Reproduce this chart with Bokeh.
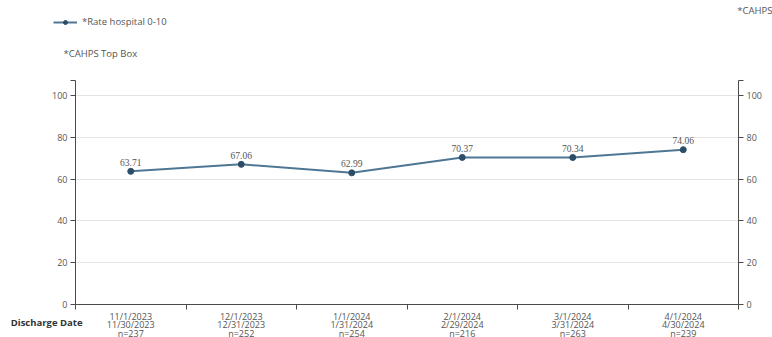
from bokeh.plotting import figure
from bokeh.models import (Range1d, LinearAxis, FixedTicker, Label, Legend,
                          ColumnDataSource, LabelSet, Grid)
from bokeh.embed import file_html
from bokeh.resources import INLINE

# Monthly discharge periods and survey results
period_start = ["11/1/2023", "12/1/2023", "1/1/2024", "2/1/2024", "3/1/2024", "4/1/2024"]
period_end = ["11/30/2023", "12/31/2023", "1/31/2024", "2/29/2024", "3/31/2024", "4/30/2024"]
n_counts = [237, 252, 254, 216, 263, 239]
top_box = [63.71, 67.06, 62.99, 70.37, 70.34, 74.06]
y_ticks = [0, 20, 40, 60, 80, 100]

FONT = "Open Sans"
LINE_COLOR = "#4f7794"
MARK_COLOR = "#2c4d69"
AXIS_COLOR = "#4a4a4a"
TEXT_COLOR = "#555555"

W, H = 772, 337
# pixel placement of the plotting box inside the canvas
LEFT_PX, RIGHT_PX = 75, 738
ZERO_PX, HUNDRED_PX = 304, 95
Y_TOP = 107

n = len(top_box)
x_scale = (RIGHT_PX - LEFT_PX) / n
y_scale = (ZERO_PX - HUNDRED_PX) / 100.0


def px_x(px):
    return (px - LEFT_PX) / x_scale


def px_y(py):
    return (ZERO_PX - py) / y_scale


xs = [i + 0.5 for i in range(n)]
labels = [f"{v:.2f}" for v in top_box]
src = ColumnDataSource(dict(x=xs, y=top_box, lab=labels))

p = figure(width=W, height=H, output_backend="svg", toolbar_location=None,
           x_range=Range1d(px_x(0), px_x(W)), y_range=Range1d(px_y(H), px_y(0)),
           min_border=0, x_axis_type=None, y_axis_type=None)
p.outline_line_color = None
p.background_fill_color = "white"
p.border_fill_color = "white"
p.xgrid.visible = False
p.ygrid.visible = False

# Horizontal grid lines across the plotting box
grid = Grid(dimension=1, ticker=FixedTicker(ticks=[20, 40, 60, 80, 100]),
            grid_line_color="#e4e4e4", bounds=(0, 100))
try:
    grid.cross_bounds = (0, n)
    p.add_layout(grid)
except AttributeError:
    p.segment(x0=0, x1=n, y0=[20, 40, 60, 80, 100], y1=[20, 40, 60, 80, 100],
              line_color="#e4e4e4", level="underlay")

# Category axis: labels centered in each period, tick marks on the boundaries
xticker = FixedTicker(ticks=xs, minor_ticks=list(range(n + 1)))
xaxis = LinearAxis(ticker=xticker, fixed_location=0, bounds=(0, n))
xaxis.major_label_overrides = {
    x: f"{a}\n{b}\nn={c}" for x, a, b, c in zip(xs, period_start, period_end, n_counts)
}
xaxis.major_tick_out = 0
xaxis.major_tick_in = 0
xaxis.minor_tick_out = 5
xaxis.minor_tick_in = 0
xaxis.major_label_standoff = 0
xaxis.major_label_text_font = FONT
xaxis.major_label_text_font_size = "9px"
xaxis.major_label_text_color = TEXT_COLOR
xaxis.major_label_text_line_height = 0.68
xaxis.axis_line_color = AXIS_COLOR
xaxis.minor_tick_line_color = AXIS_COLOR
p.add_layout(xaxis, "below")

for side, loc in (("left", 0), ("right", n)):
    ax = LinearAxis(ticker=FixedTicker(ticks=y_ticks, minor_ticks=[Y_TOP]),
                    fixed_location=loc, bounds=(0, Y_TOP))
    ax.major_tick_out = 5
    ax.major_tick_in = 0
    ax.minor_tick_out = 5
    ax.minor_tick_in = 0
    ax.major_label_standoff = 3
    ax.major_label_text_font = FONT
    ax.major_label_text_font_size = "9px"
    ax.major_label_text_color = TEXT_COLOR
    ax.axis_line_color = AXIS_COLOR
    ax.major_tick_line_color = AXIS_COLOR
    ax.minor_tick_line_color = AXIS_COLOR
    p.add_layout(ax, side)

r_line = p.line("x", "y", source=src, line_color=LINE_COLOR, line_width=2)
r_pts = p.scatter("x", "y", source=src, size=6, color=MARK_COLOR)

vals = LabelSet(x="x", y="y", text="lab", source=src, y_offset=9,
                text_align="center", text_baseline="middle",
                text_font=FONT, text_font_size="9.5px", text_color=TEXT_COLOR)
p.add_layout(vals)

legend = Legend(items=[("*Rate hospital 0-10", [r_line, r_pts])],
                location=(53, H - 28), orientation="horizontal",
                glyph_width=24, glyph_height=10, label_height=10,
                label_standoff=5, padding=0, margin=0, spacing=0,
                border_line_alpha=0, background_fill_alpha=0,
                label_text_font=FONT, label_text_font_size="9.5px",
                label_text_color=TEXT_COLOR)
p.add_layout(legend)


def note(px, py, text, size="9.5px", align="left", style="normal", color=TEXT_COLOR):
    return Label(x=px_x(px), y=px_y(py), text=text, text_font=FONT,
                 text_font_size=size, text_font_style=style, text_color=color,
                 text_baseline="middle", text_align=align)


p.add_layout(note(63, 53, "*CAHPS Top Box"))
p.add_layout(note(772, 10, "*CAHPS", align="right"))
p.add_layout(note(82, 322, "Discharge Date", size="9.5px", align="right",
                  style="bold", color="#333333"))

open("out.html", "w").write(file_html(p, INLINE))
